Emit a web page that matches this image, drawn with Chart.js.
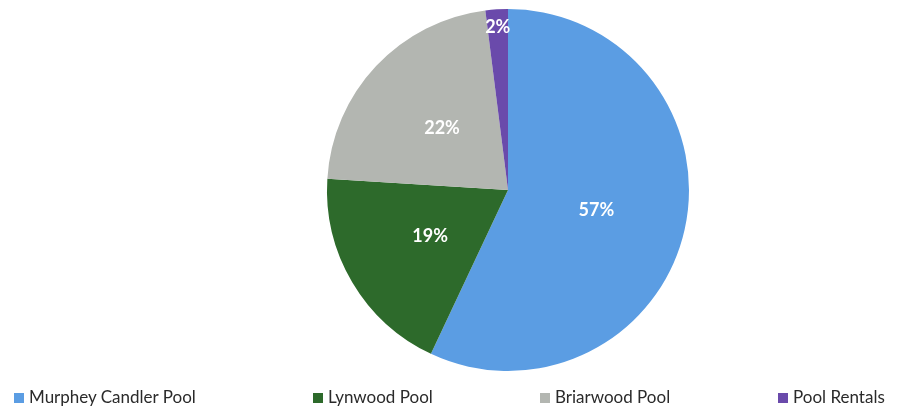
<!DOCTYPE html>
<html>
<head>
<meta charset="utf-8">
<script src="https://cdn.jsdelivr.net/npm/chart.js@4"></script>
<style>
  html, body { margin: 0; padding: 0; background: #fff; }
  #wrap { position: relative; width: 904px; height: 408px; }
  #poolChart { position: absolute; left: 0; top: 0; }
  .legend-item {
    position: absolute; top: 386px; font-family: Lato, sans-serif; font-size: 17px;
    color: #2a2a2a; white-space: nowrap; line-height: 22px;
  }
  .legend-item span.box {
    display: inline-block; width: 10px; height: 10px; margin-right: 5px; vertical-align: 0px;
  }
</style>
</head>
<body>
<div id="wrap">
  <canvas id="poolChart" width="904" height="408"></canvas>
  <div id="legend"></div>
</div>
<script>
// ========================== DATA =============================

const pools = ["Murphey Candler Pool", "Lynwood Pool", "Briarwood Pool", "Pool Rentals"];
const shares = [57, 19, 22, 2];
const colors = ["#5b9de3", "#2d6a2b", "#b3b6b1", "#6a4aab"];
const legendLeft = [14, 313, 540, 778];

// ========================== SLICE LABELS =============================

const sliceLabels = {
  id: "sliceLabels",
  afterDatasetsDraw(chart) {
    const ctx = chart.ctx;
    const meta = chart.getDatasetMeta(0);
    ctx.save();
    ctx.fillStyle = "#fff";
    ctx.font = "bold 18px Lato, sans-serif";
    ctx.textAlign = "center";
    ctx.textBaseline = "middle";
    meta.data.forEach((arc, i) => {
      const mid = (arc.startAngle + arc.endAngle) / 2;
      // thin slices get their label pushed out near the rim
      const r = shares[i] < 5 ? arc.outerRadius * 0.9 : arc.outerRadius / 2;
      ctx.fillText(shares[i] + "%", arc.x + Math.cos(mid) * r, arc.y + Math.sin(mid) * r);
    });
    ctx.restore();
  },
};

new Chart(document.getElementById("poolChart"), {
  type: "pie",
  data: {
    labels: pools,
    datasets: [
      {
        data: shares,
        backgroundColor: colors,
        borderWidth: 0,
      },
    ],
  },
  options: {
    responsive: false,
    animation: false,
    layout: { padding: { left: 112, top: 9, bottom: 37, right: 0 } },
    plugins: {
      legend: { display: false },
      tooltip: { enabled: false },
    },
  },
  plugins: [sliceLabels],
});

// ========================== LEGEND =============================

const legend = document.getElementById("legend");
pools.forEach((name, i) => {
  const item = document.createElement("div");
  item.className = "legend-item";
  item.style.left = legendLeft[i] + "px";
  item.innerHTML = `<span class="box" style="background:${colors[i]}"></span>${name}`;
  legend.appendChild(item);
});
</script>
</body>
</html>
